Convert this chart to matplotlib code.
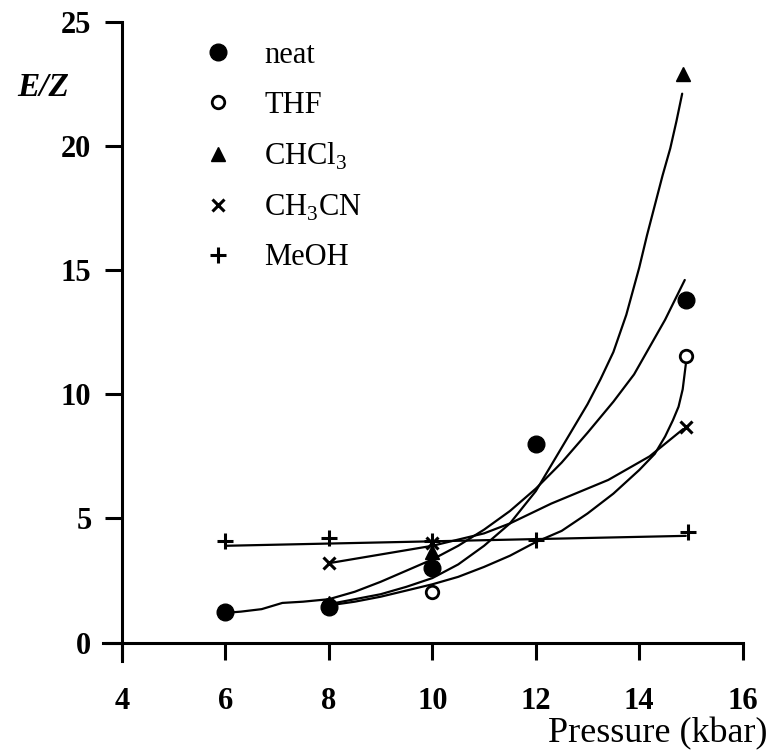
import matplotlib
matplotlib.use('Agg')
import matplotlib.pyplot as plt

plt.rcParams['font.family'] = ['Liberation Serif', 'DejaVu Serif']
plt.rcParams['mathtext.fontset'] = 'custom'
plt.rcParams['mathtext.rm'] = 'Liberation Serif'

# measured points
neat_x = [6, 8, 10, 12, 14.9]
neat_y = [1.25, 1.45, 3.0, 8.0, 13.8]
thf_x = [8, 10, 14.9]
thf_y = [1.5, 2.05, 11.55]
chcl3_x = [8, 10, 14.85]
chcl3_y = [1.6, 3.65, 22.9]
ch3cn_x = [8, 10, 14.9]
ch3cn_y = [3.2, 4.0, 8.7]
meoh_x = [6, 8, 10, 12, 14.95]
meoh_y = [4.1, 4.2, 4.1, 4.15, 4.45]

# fitted curves
neat_fit_x = [6.0, 6.3, 6.7, 7.1, 7.5, 8.0, 8.5, 9.0, 9.5, 10.0, 10.5, 11.0,
              11.5, 12.0, 12.5, 13.0, 13.5, 13.9, 14.2, 14.5, 14.88]
neat_fit_y = [1.2, 1.25, 1.35, 1.6, 1.65, 1.75, 2.05, 2.45, 2.9, 3.35, 3.9, 4.55,
              5.3, 6.2, 7.25, 8.45, 9.7, 10.8, 11.9, 13.0, 14.6]
chcl3_fit_x = [8.0, 8.5, 9.0, 9.5, 10.0, 10.5, 11.0, 11.5, 12.0, 12.5, 13.0,
               13.25, 13.5, 13.75, 14.0, 14.15, 14.3, 14.45, 14.6, 14.72, 14.83]
chcl3_fit_y = [1.55, 1.75, 1.95, 2.25, 2.6, 3.15, 3.9, 4.8, 6.1, 7.85, 9.6,
               10.6, 11.7, 13.2, 15.1, 16.4, 17.6, 18.8, 19.9, 21.0, 22.1]
thf_fit_x = [8.0, 8.5, 9.0, 9.5, 10.0, 10.5, 11.0, 11.5, 12.0, 12.5, 13.0,
             13.5, 14.0, 14.3, 14.5, 14.65, 14.76, 14.84, 14.9]
thf_fit_y = [1.5, 1.65, 1.85, 2.1, 2.35, 2.65, 3.05, 3.5, 4.05, 4.5, 5.2,
             6.0, 6.95, 7.6, 8.3, 8.95, 9.5, 10.2, 11.2]
ch3cn_fit_x = [8.0, 9.0, 10.0, 11.0, 11.5, 12.3, 13.4, 14.2, 14.85]
ch3cn_fit_y = [3.2, 3.55, 3.9, 4.4, 4.8, 5.6, 6.55, 7.5, 8.6]
meoh_fit_x = [6.0, 14.9]
meoh_fit_y = [3.9, 4.3]

x_ticks = [4, 6, 8, 10, 12, 14, 16]
y_ticks = [0, 5, 10, 15, 20, 25]

fig = plt.figure(figsize=(7.74, 7.54), dpi=100)
ax = fig.add_axes([0.1309, 0.1147, 0.8487, 0.8665])
ax.set_xlim(3.6, 16.3)
ax.set_ylim(-1.0, 25.3)

lw = 1.6
for fx, fy in [(meoh_fit_x, meoh_fit_y), (ch3cn_fit_x, ch3cn_fit_y),
               (thf_fit_x, thf_fit_y), (chcl3_fit_x, chcl3_fit_y),
               (neat_fit_x, neat_fit_y)]:
    ax.plot(fx, fy, color='black', lw=lw, solid_capstyle='round',
            solid_joinstyle='round', zorder=2)

ax.plot(meoh_x, meoh_y, ls='none', marker='+', ms=12, mew=2.2, color='black',
        label='MeOH', zorder=3)
ax.plot(ch3cn_x, ch3cn_y, ls='none', marker='x', ms=9, mew=2.2, color='black',
        label='CH$_\\mathrm{3}$CN', zorder=3)
ax.plot(chcl3_x, chcl3_y, ls='none', marker='^', ms=10, color='black',
        label='CHCl$_\\mathrm{3}$', zorder=3)
ax.plot(thf_x, thf_y, ls='none', marker='o', ms=9, mew=2, mfc='white',
        mec='black', label='THF', zorder=3)
ax.plot(neat_x, neat_y, ls='none', marker='o', ms=12, color='black',
        label='neat', zorder=4)

handles, labels = ax.get_legend_handles_labels()
order = [4, 3, 2, 1, 0]
leg = ax.legend([handles[i] for i in order], [labels[i] for i in order],
                loc='upper left', bbox_to_anchor=(203 / 774, 1 - 41 / 754),
                bbox_transform=fig.transFigure, frameon=False, fontsize=22,
                handlelength=1.0, handletextpad=1.0, labelspacing=0.68,
                borderpad=0, borderaxespad=0, numpoints=1)

for s in ['top', 'right']:
    ax.spines[s].set_visible(False)
ax.spines['left'].set_position(('data', 4))
ax.spines['bottom'].set_position(('data', 0))
ax.spines['left'].set_bounds(-0.75, 25)
ax.spines['bottom'].set_bounds(3.63, 16)
ax.spines['left'].set_linewidth(2.2)
ax.spines['bottom'].set_linewidth(2.2)

ax.set_xticks(x_ticks)
ax.set_yticks(y_ticks)
ax.tick_params(axis='x', direction='out', length=12, width=2.2, pad=20,
               labelsize=22)
ax.tick_params(axis='y', direction='out', length=12, width=2.2, pad=10,
               labelsize=22)
for t in ax.get_xticklabels() + ax.get_yticklabels():
    t.set_fontweight('bold')

fig.text(768 / 774, 1 - 742 / 754, 'Pressure (kbar)', ha='right',
         va='baseline', fontsize=26)
fig.text(43 / 774, 1 - 87 / 754, 'E/Z', ha='center', va='center', fontsize=24,
         fontweight='bold', fontstyle='italic')

fig.savefig('out.png', dpi=100)
